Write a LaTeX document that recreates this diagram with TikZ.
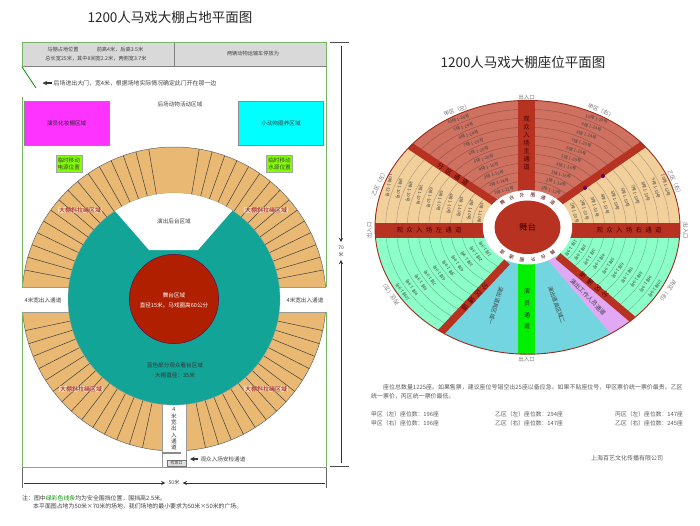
\documentclass[tikz,border=0pt]{standalone}
\usepackage{fontspec}
\setmainfont{Noto Sans CJK SC}
\newfontfamily\wideface[LetterSpace=50]{Noto Sans CJK SC}
\usepackage{xcolor}
\usetikzlibrary{arrows,positioning}
\definecolor{fencegreen}{HTML}{76B562}
\definecolor{ringtan}{HTML}{E9B872}
\definecolor{standteal}{HTML}{12A597}
\definecolor{stagered}{HTML}{B02000}
\definecolor{aislered}{HTML}{B83222}
\definecolor{sectred}{HTML}{CF7160}
\definecolor{secttan}{HTML}{F2D09C}
\definecolor{sectmint}{HTML}{8CFFC8}
\definecolor{sectcyan}{HTML}{72D5E0}
\definecolor{sectlilac}{HTML}{E0A8F5}
\definecolor{dressing}{HTML}{FF33FF}
\definecolor{animalbox}{HTML}{00FFFF}
\definecolor{lime}{HTML}{80FF00}
\definecolor{walkway}{HTML}{00F000}
\tikzset{
	txt/.style={text=black!75, inner sep=0pt, font=\fontsize{5.6}{7}\selectfont},
	smalltxt/.style={text=black!75, inner sep=0pt, font=\fontsize{5.2}{6}\selectfont},
	headtxt/.style={text=black!85, inner sep=0pt, font=\fontsize{13.5}{16}\selectfont},
	ropetxt/.style={text=red!60!black, inner sep=.6pt, fill=white, fill opacity=.45, text opacity=1, font=\fontsize{6}{7}\selectfont},
	seat/.style={text=black!75, inner sep=0pt, font=\fontsize{4.3}{5}\selectfont},
	aisletxt/.style={text=red!30!black, inner sep=0pt, font=\fontsize{6.5}{8}\selectfont},
	widetxt/.style={text=red!30!black, inner sep=0pt, font=\wideface\fontsize{6.5}{8}\selectfont},
	gate/.style={text=black!55, inner sep=0pt, font=\fontsize{5.5}{7}\selectfont},
	spoke/.style={aislered, line width=7.5pt},
	rowline/.style={draw=black, opacity=.27, line width=.45pt},
	radial/.style={draw=black!75, line width=.5pt},
	dimline/.style={->, >=stealth, line width=.9pt, black!80},
}
\begin{document}
\begin{tikzpicture}[x=1pt, y=-1pt]
	\useasboundingbox (0,0) rectangle (700,525);
	\node[headtxt] (titleA) at (170,17) {1200人马戏大棚占地平面图};
	% seat ring, cut by the passages
	\fill[ringtan, draw=black!60, line width=.5pt] (174,299) circle [radius=152pt];
	\foreach \a in {0,...,14} {
		\pgfmathsetmacro\aa{11+4.96*\a}
		\draw[radial] ({174+106*cos(\aa)},{299-106*sin(\aa)}) -- ({174+152*cos(\aa)},{299-152*sin(\aa)});
		\draw[radial] ({174-106*cos(\aa)},{299-106*sin(\aa)}) -- ({174-152*cos(\aa)},{299-152*sin(\aa)});
	}
	\foreach \a in {0,...,13} {
		\pgfmathsetmacro\aa{12+5.08*\a}
		\draw[radial] ({174+106*cos(\aa)},{299+106*sin(\aa)}) -- ({174+152*cos(\aa)},{299+152*sin(\aa)});
		\draw[radial] ({174-106*cos(\aa)},{299+106*sin(\aa)}) -- ({174-152*cos(\aa)},{299+152*sin(\aa)});
	}
	\fill[white] (18,287) rectangle (75,312);
	\fill[white] (273,287) rectangle (330,312);
	\draw[black!40, line width=.4pt] (22,287) -- (75,287) (22,312) -- (75,312) (273,287) -- (326,287) (273,312) -- (326,312);
	\fill[white, draw=black!40, line width=.4pt] (162,395) rectangle (186,467);
	\fill[standteal, draw=black!40, line width=.3pt] (174,299) circle [radius=106pt];
	\begin{scope}
		\clip (174,299) circle [radius=106pt];
		\fill[white] (115,211) -- (149,250) -- (198,250) -- (232,211) -- (232,180) -- (115,180) -- cycle;
	\end{scope}
	\fill[stagered, draw=violet!70!black, line width=.4pt] (174,299) circle [radius=44.7pt];
	% fence and top bar
	\fill[black!15, draw=black!50, line width=.5pt] (22,42) rectangle (326,66);
	\draw[black!50, line width=.6pt] (174,42) -- (174,66);
	\draw[fencegreen, line width=1pt] (22,97) -- (22,287) (22,312) -- (22,467) -- (162,467) (186,467) -- (326,467) -- (326,312) (326,287) -- (326,42) -- (22,42) -- (22,67);
	\draw[green!55!black, line width=.8pt] (22,67) -- (36,88);
	\fill[dressing, draw=black!45, line width=.5pt] (24.5,101.5) rectangle (109,145);
	\fill[animalbox, draw=black!45, line width=.5pt] (238,101.5) rectangle (323,145);
	\node[txt, fill=lime, draw=black!35, minimum width=26pt, minimum height=17pt, align=center] (powerbox) at (68.7,163.5) {临时移动\\电源位置};
	\node[txt, fill=lime, draw=black!35, minimum width=26pt, minimum height=17pt, align=center] (waterbox) at (279.5,163.5) {临时移动\\水源位置};
	\fill[black!45] (162,452) rectangle (181,454);
	\node[smalltxt, fill=black!12, draw=black!55, minimum width=19pt, minimum height=6pt, font=\fontsize{4}{5}\selectfont] (ticket) at (176.5,463) {检票口};
	% labels, left plan
	\node[smalltxt] (bar1) at (63,50) {马棚占地位置};
	\node[smalltxt] (bar2) at (120,50) {前高4米，后高3.5米};
	\node[smalltxt] (bar3) at (96,59) {总长宽25米，其中8间宽2.2米，两侧宽3.7米};
	\node[smalltxt] (bar4) at (253,54) {两辆动物运输车停放为};
	\node[txt, font=\fontsize{5.9}{7}\selectfont] (doortxt) at (135,83) {后场进出大门，宽4米，根据场地实际情况确定此门开在那一边};
	\coordinate (doortip) at (42.5,83);
	\draw[dimline, line width=1.1pt] (doortxt.west) ++(-2,0) -- (doortip);
	\node[txt] (yard) at (180,104) {后场动物活动区域};
	\node[txt, text=black!85] (actors) at (66.7,123) {演员化妆棚区域};
	\node[txt] (animals) at (281,123) {小动物圈养区域};
	\node[ropetxt] (ropeA) at (80,210) {大棚斜拉绳区域};
	\node[ropetxt] (ropeB) at (266,210) {大棚斜拉绳区域};
	\node[ropetxt] (ropeC) at (81,389) {大棚斜拉绳区域};
	\node[ropetxt] (ropeD) at (266,389) {大棚斜拉绳区域};
	\node[txt] (backstage) at (174,221) {演出后台区域};
	\node[txt] (passL) at (43,300) {4米宽出入通道};
	\node[txt] (passR) at (305,300) {4米宽出入通道};
	\node[txt, text=white] (stageA) at (174,295) {舞台区域};
	\node[txt, text=white] (stageB) at (174,305) {直径15米。马戏圈高60公分};
	\node[txt, text=black!80] (standA) at (175,365) {蓝色部分观众看台区域};
	\node[txt, text=black!80] (standB) at (175,375) {大棚直径：35米};
	\node[txt, align=center, font=\fontsize{5.6}{6.3}\selectfont] (passB) at (174,429) {4\\米\\宽\\出\\入\\通\\道};
	\node[txt] (check) at (223,459) {观众入场安检通道};
	\coordinate (checktip) at (190,459);
	\draw[dimline, line width=1.1pt] (check.west) ++(-2,0) -- (checktip);
	% dimensions
	\draw[black!60, line width=.8pt] (22,468) -- (22,488) (326,468) -- (326,488);
	\draw[black!70, line width=.7pt] (330,42) -- (349,42) (330,466) -- (349,466);
	\node[smalltxt] (width50) at (174,483) {50米};
	\coordinate (widthL) at (24,483);
	\coordinate (widthR) at (325,483);
	\draw[dimline, shorten >=3pt] (widthL) -- (width50.west);
	\draw[dimline, shorten >=3pt] (widthR) -- (width50.east);
	\node[smalltxt, align=center, font=\fontsize{4.9}{6.5}\selectfont] (height70) at (341,251.5) {70\\米};
	\coordinate (heightT) at (341,46);
	\coordinate (heightB) at (341,463);
	\draw[dimline, shorten >=4pt] (heightT) -- (height70.north);
	\draw[dimline, shorten >=3pt] (heightB) -- (height70.south);
	\node[txt, anchor=west, font=\fontsize{5.9}{7}\selectfont] (note1) at (22,498) {注：图中\textcolor{green!60!black}{绿彩色线条}均为安全围挡位置，围挡高2.5米。};
	\node[txt, anchor=west, font=\fontsize{5.9}{7}\selectfont] (note2) at (33,506) {本平面图占地为50米×70米的场地，我们场地的最小要求为50米×50米的广场。};
	% seating plan
	\node[headtxt] (titleB) at (523,62) {1200人马戏大棚座位平面图};
	\begin{scope}
		\clip (527.5,227.3) ellipse [x radius=152.5pt, y radius=126.9pt];
		\fill[secttan] (370,95) rectangle (690,230);
		\fill[sectmint] (370,230) rectangle (690,360);
		\fill[sectred] (527.5,224) -- (350,106) -- (350,90) -- (705,90) -- (705,102) -- cycle;
		\foreach \k in {1,...,9} {
			\pgfmathsetmacro\rr{44.7+10.8*\k}
			\draw[rowline] (527.5,227.3) ellipse [x radius=\rr pt, y radius=.832*\rr pt];
		}
		\fill[sectcyan] (530,235) -- (414,361) -- (527,385) -- (640,368) -- (548,260) -- cycle;
		\fill[sectlilac] (548,260) -- (640,368) -- (670,351) -- (558,256) -- cycle;
		\fill[walkway] (517.7,240) rectangle (535.3,360);
		\draw[spoke] (527.5,224) -- (350,106);
		\draw[spoke] (527.5,224) -- (705,102);
		\draw[spoke] (507,262) -- (414,361);
		\draw[spoke] (558,256) -- (670,351);
		\fill[aislered] (517.7,95) rectangle (535.3,200);
		\fill[aislered] (370,223.3) rectangle (690,237.5);
	\end{scope}
	\draw[aislered!85!black, line width=.9pt] (527.5,227.3) ellipse [x radius=152.5pt, y radius=126.9pt];
	\fill[white] (527.5,227.3) ellipse [x radius=44.7pt, y radius=37.2pt];
	\fill[aislered] (527.5,227.3) ellipse [x radius=33pt, y radius=26.7pt];
	\node[aisletxt, font=\fontsize{8.5}{10}\selectfont] (stageC) at (527.7,227) {舞台};
	\foreach \ch [count=\i] in {舞,台,外,圈,通,道} {
		\pgfmathsetmacro\aa{130-16*(\i-1)}
		\pgfmathsetmacro\ab{-50-16*(\i-1)}
		\node[seat, text=red!30!black, font=\fontsize{4.8}{5}\selectfont, rotate=\aa-90] (ringT\i) at ({527.5+39*cos(\aa)},{227.3-.832*39*sin(\aa)}) {\ch};
		\node[seat, text=red!30!black, font=\fontsize{4.8}{5}\selectfont, rotate=\ab-90] (ringB\i) at ({527.5+39*cos(\ab)},{227.3-.832*39*sin(\ab)}) {\ch};
	}
	% rows
	\foreach \k/\n in {1/12,2/14,3/16,4/16,5/20,6/20,7/20,8/24,9/24,10/28} {
		\pgfmathsetmacro\rr{44.7+10.8*(\k-.5)}
		\node[seat, rotate=16] (redL\k) at ({527.5+\rr*cos(118)},{227.3-.832*\rr*sin(118)}) {\k{}排 1-\n{}号};
		\node[seat, rotate=-16] (redR\k) at ({527.5+\rr*cos(62)},{227.3-.832*\rr*sin(62)}) {\k{}排 1-\n{}号};
	}
	\foreach \k/\n in {1/10,2/10,3/10,4/10,5/10,6/10,7/10,8/10,9/10,10/12} {
		\pgfmathsetmacro\rr{44.7+10.8*(\k-.5)}
		\node[seat, rotate=-100] (tanL\k) at ({527.5+\rr*cos(160)},{227.3-.832*\rr*sin(160)}) {\k{}排 1-\n{}号};
		\node[seat, rotate=-75] (tanR\k) at ({527.5+\rr*cos(20)},{227.3-.832*\rr*sin(20)}) {\k{}排 1-\n{}号};
	}
	\foreach \k in {1,...,10} {
		\pgfmathsetmacro\rr{44.7+10.8*(\k-.5)}
		\node[seat, rotate=125] (mintL\k) at ({527.5+\rr*cos(-148)},{227.3-.832*\rr*sin(-148)}) {\k{}排 1-9号};
		\node[seat, rotate=-125] (mintR\k) at ({527.5+\rr*cos(-30)},{227.3-.832*\rr*sin(-30)}) {\k{}排 1-9号};
	}
	\node[gate, rotate=20] (zoneA) at (457,110) {甲区（左）};
	\node[gate, rotate=-22] (zoneB) at (601,111) {甲区（右）};
	\node[gate, rotate=65] (zoneC) at (379,183) {乙区（左）};
	\node[gate, rotate=-65] (zoneD) at (675,183) {乙区（右）};
	\node[gate, rotate=125] (zoneE) at (390,293) {丙区（左）};
	\node[gate, rotate=-125] (zoneF) at (667,292) {丙区（右）};
	\node[gate] (gateT) at (526.7,97) {出入口};
	\node[gate] (gateB) at (526.7,359) {出入口};
	\node[gate, rotate=90] (gateL) at (369.3,230.7) {出入口};
	\node[gate, rotate=-90] (gateR) at (685.7,231) {出入口};
	\node[aisletxt, align=center] (mainaisle) at (526.7,143.5) {观\\众\\入\\场\\主\\通\\道};
	\node[widetxt] (leftaisle) at (429,230) {观众入场左通道};
	\node[widetxt] (rightaisle) at (629,230) {观众入场右通道};
	\node[widetxt, rotate=-33] (splitA) at (453,174.5) {分区通道};
	\node[widetxt, rotate=227] (splitB) at (475,297) {分区通道};
	\node[widetxt, rotate=140] (splitC) at (594,285) {分区通道};
	\node[circle, fill=violet!70!black, inner sep=0pt, minimum size=4pt] (markA) at (585,188) {};
	\node[circle, fill=violet!70!black, inner sep=0pt, minimum size=4pt] (markB) at (603,176) {};
	\node[txt, text=black!80, align=center, font=\fontsize{6}{11.6}\selectfont] (actorway) at (527,309) {演\\员\\通\\道};
	\node[txt, rotate=-107] (propA) at (495.7,305.7) {演出道具区域一};
	\node[txt, rotate=-70] (propB) at (556.7,305) {演出道具区域二};
	\node[txt, rotate=-46, font=\fontsize{6}{7}\selectfont] (crew) at (588,297) {演出工作人员通道};
	% seat notes
	\node[txt, anchor=west, text=black!65, font=\fontsize{5.95}{7}\selectfont] (para1) at (383,387) {座位总数量1225座。如果售票，建议座位号错空出25座以备应急。如果不贴座位号，甲区票价统一票价最贵。乙区};
	\node[txt, anchor=west, text=black!65, font=\fontsize{5.95}{7}\selectfont] (para2) at (371,396) {统一票价，丙区统一票价最低。};
	\node[txt, anchor=west, text=black!65, font=\fontsize{5.8}{7}\selectfont] (count1) at (371,414) {甲区（左）座位数：196座};
	\node[txt, anchor=west, text=black!65, font=\fontsize{5.8}{7}\selectfont] (count2) at (495,414) {乙区（左）座位数：294座};
	\node[txt, anchor=west, text=black!65, font=\fontsize{5.8}{7}\selectfont] (count3) at (615,414) {丙区（左）座位数：147座};
	\node[txt, anchor=west, text=black!65, font=\fontsize{5.8}{7}\selectfont] (count4) at (371,423) {甲区（右）座位数：196座};
	\node[txt, anchor=west, text=black!65, font=\fontsize{5.8}{7}\selectfont] (count5) at (495,423) {乙区（右）座位数：147座};
	\node[txt, anchor=west, text=black!65, font=\fontsize{5.8}{7}\selectfont] (count6) at (615,423) {乙区（右）座位数：245座};
	\node[txt, text=black!65, font=\fontsize{6}{7}\selectfont] (company) at (627,458) {上海百艺文化传播有限公司};
\end{tikzpicture}
\end{document}
